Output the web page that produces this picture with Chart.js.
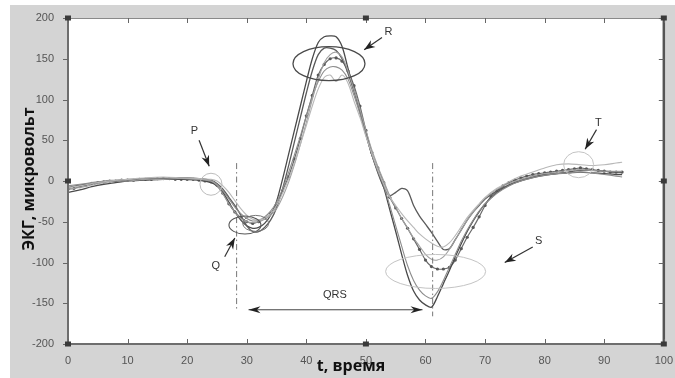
<!DOCTYPE html>
<html><head><meta charset="utf-8">
<script src="https://cdn.jsdelivr.net/npm/chart.js@4"></script>
<style>html,body{margin:0;padding:0;background:#fff}canvas{display:block}</style>
</head><body>
<canvas id="c" width="675" height="378"></canvas>
<script>
// ---- data ----
const meanX = [0,1,2,3,4,5,6,7,8,9,10,11,12,13,14,15,16,17,18,19,20,21,22,23,24,25,26,27,28,29,30,31,32,33,34,35,36,37,38,39,40,41,42,43,44,45,46,47,48,49,50,51,52,53,54,55,56,57,58,59,60,61,62,63,64,65,66,67,68,69,70,71,72,73,74,75,76,77,78,79,80,81,82,83,84,85,86,87,88,89,90,91,92,93];
const meanY = [-10,-9,-7,-5,-3,-2,-1,0,0,1,1,1,2,2,2,3,3,3,2,2,2,2,1,0,-1,-5,-15,-28,-38,-45,-50,-52,-50,-46,-40,-30,-12,5,27,52,80,105,130,143,150,151,147,135,117,92,62,35,16,-2,-20,-33,-46,-58,-71,-84,-97,-105,-108,-108,-106,-97,-83,-69,-57,-44,-30,-19,-12,-6,-2,1,4,6,8,9,10,11,12,13,14,15,16,15,14,13,12,11,11,11];

const curveX = [0,2,4,6,8,10,13,16,19,22,24,25,26,27,28,29,30,31,32,33,34,35,36,37,38,39,40,41,42,43,44,45,46,47,48,49,50,51,52,53,54,55,56,57,58,59,60,61,62,63,64,65,66,67,68,69,70,72,74,76,78,80,82,84,86,88,90,92,93];
const lead1 = [-14,-11,-7,-4,-2,0,1,2,2,1,-2,-6,-14,-26,-38,-48,-55,-58,-57,-52,-42,-25,2,32,62,92,122,150,170,177,178,177,165,138,112,86,58,32,12,-8,-35,-62,-90,-116,-135,-146,-152,-155,-142,-126,-110,-93,-77,-62,-49,-38,-28,-14,-5,1,5,8,9,10,11,10,9,8,8];
const lead2 = [-8,-5,-3,-1,0,1,3,3,4,3,1,-3,-10,-20,-30,-42,-55,-62,-62,-57,-48,-33,-10,18,48,78,108,135,155,163,163,160,150,132,110,85,58,32,10,-8,-18,-14,-9,-12,-30,-43,-53,-63,-74,-84,-83,-72,-60,-48,-38,-30,-22,-12,-5,0,4,7,9,11,13,13,12,11,11];
const lead3 = [-6,-4,-2,0,1,2,3,4,3,2,0,-4,-12,-22,-32,-40,-46,-49,-48,-44,-37,-26,-10,10,32,55,80,103,122,135,140,140,136,125,105,82,56,32,12,-6,-30,-55,-80,-104,-122,-134,-141,-144,-136,-122,-106,-90,-74,-60,-48,-37,-28,-15,-6,0,4,7,9,10,11,10,8,6,5];
const lead4 = [-8,-6,-3,-1,1,2,4,5,4,3,2,0,-6,-14,-24,-34,-42,-47,-48,-46,-40,-30,-15,2,22,45,68,92,113,127,130,122,130,120,98,78,55,34,14,-4,-20,-30,-40,-49,-57,-65,-71,-76,-80,-81,-76,-67,-56,-45,-36,-28,-20,-9,-1,6,11,16,20,21,20,19,20,22,23];
const lead5 = [-10,-8,-5,-2,0,0,2,2,3,2,0,-5,-16,-28,-38,-46,-50,-51,-50,-47,-42,-34,-20,-2,20,45,72,100,125,145,155,158,152,135,112,88,62,38,18,0,-18,-32,-46,-58,-70,-80,-90,-96,-97,-93,-84,-72,-60,-48,-38,-29,-21,-10,-3,2,6,9,11,13,14,13,12,12,12];

const xTickValues = [0,10,20,30,40,50,60,70,80,90,100];
const yTickValues = [-200,-150,-100,-50,0,50,100,150,200];

const yTitle = 'ЭКГ, микровольт';
const xTitle = 't, время';
const waveLabels = ['P','Q','R','S','T'];
const intervalLabel = 'QRS';

// ---- build ----
const pts = (xs, ys) => xs.map((x, i) => ({x, y: ys[i]}));
const line = (data, color, w) => ({data, borderColor: color, borderWidth: w, pointRadius: 0, tension: 0.3, fill: false});

const datasets = [
  line(pts(curveX, lead4), '#b8b8b8', 1.1),
  line(pts(curveX, lead5), '#a0a0a0', 1.1),
  line(pts(curveX, lead3), '#8c8c8c', 1.1),
  line(pts(curveX, lead2), '#5a5a5a', 1.3),
  line(pts(curveX, lead1), '#4a4a4a', 1.3),
  {data: pts(meanX, meanY), borderColor: '#6a6a6a', borderWidth: 1.2, pointRadius: 1.6,
   pointBackgroundColor: '#585858', pointBorderWidth: 0, tension: 0.3, fill: false}
];

const tickFont = {family: '"Liberation Sans", Arial, sans-serif', size: 11};

function arrowHead(ctx, x1, y1, x2, y2, len, wid) {
  const a = Math.atan2(y2 - y1, x2 - x1);
  ctx.save();
  ctx.translate(x2, y2); ctx.rotate(a);
  ctx.beginPath();
  ctx.moveTo(0, 0);
  ctx.lineTo(-len, -wid / 2);
  ctx.lineTo(-len * 0.7, 0);
  ctx.lineTo(-len, wid / 2);
  ctx.closePath();
  ctx.fill();
  ctx.restore();
}

const decor = {
  id: 'decor',
  beforeDraw(chart) {
    const {ctx, chartArea: a} = chart;
    ctx.save();
    ctx.fillStyle = '#ffffff'; ctx.fillRect(0, 0, chart.width, chart.height);
    ctx.fillStyle = '#d4d4d4'; ctx.fillRect(10, 5, chart.width - 10, chart.height - 5);
    ctx.fillStyle = '#ffffff'; ctx.fillRect(a.left, a.top, a.right - a.left, a.bottom - a.top);
    ctx.restore();
  },
  afterDatasetsDraw(chart) {
    const {ctx, scales: {x, y}} = chart;
    const X = v => x.getPixelForValue(v), Y = v => y.getPixelForValue(v);
    ctx.save();
    // dash-dot verticals
    ctx.strokeStyle = '#777'; ctx.lineWidth = 1; ctx.setLineDash([6, 3, 1.5, 3]);
    ctx.beginPath(); ctx.moveTo(X(28.3), Y(22)); ctx.lineTo(X(28.3), Y(-159)); ctx.stroke();
    ctx.beginPath(); ctx.moveTo(X(61.2), Y(22)); ctx.lineTo(X(61.2), Y(-166)); ctx.stroke();
    ctx.setLineDash([]);
    // ellipses
    const ell = (cx, cy, rx, ry, col, lw) => { ctx.strokeStyle = col; ctx.lineWidth = lw; ctx.beginPath(); ctx.ellipse(X(cx), Y(cy), rx, ry, 0, 0, Math.PI * 2); ctx.stroke(); };
    ell(24, -4, 11, 11, '#bdbdbd', 1);
    ell(29.7, -54, 16, 9, '#555', 1.1);
    ell(31.5, -52, 13, 8, '#777', 1);
    ell(43.8, 144, 36, 17, '#4a4a4a', 1.3);
    ell(61.7, -111, 50, 17, '#c4c4c4', 1);
    ell(85.7, 20, 15, 13, '#c4c4c4', 1);
    // arrows
    ctx.fillStyle = '#222'; ctx.strokeStyle = '#333'; ctx.lineWidth = 1.2;
    const arr = (x1, y1, x2, y2) => {
      const p1 = [X(x1), Y(y1)], p2 = [X(x2), Y(y2)];
      ctx.beginPath(); ctx.moveTo(p1[0], p1[1]); ctx.lineTo(p2[0], p2[1]); ctx.stroke();
      arrowHead(ctx, p1[0], p1[1], p2[0], p2[1], 11, 8);
    };
    arr(22, 50, 23.7, 18);
    arr(26.3, -93, 28, -70);
    arr(52.7, 176, 49.7, 161);
    arr(78, -81, 73.3, -100);
    arr(88.7, 63, 86.8, 39);
    // QRS double arrow
    ctx.lineWidth = 1; ctx.strokeStyle = '#444';
    ctx.beginPath(); ctx.moveTo(X(30.3), Y(-158)); ctx.lineTo(X(59.5), Y(-158)); ctx.stroke();
    arrowHead(ctx, X(59.5), Y(-158), X(30.3), Y(-158), 12, 7);
    arrowHead(ctx, X(30.3), Y(-158), X(59.5), Y(-158), 12, 7);
    // labels
    ctx.fillStyle = '#333'; ctx.font = '11px "Liberation Sans", Arial, sans-serif';
    ctx.textAlign = 'center'; ctx.textBaseline = 'middle';
    const lab = [[21.2, 61], [24.8, -104], [53.8, 183], [79, -74], [89, 71]];
    waveLabels.forEach((t, i) => ctx.fillText(t, X(lab[i][0]), Y(lab[i][1])));
    ctx.fillText(intervalLabel, X(44.8), Y(-140));
    ctx.restore();
  },
  afterDraw(chart) {
    const {ctx, chartArea: a, scales: {x, y}} = chart;
    ctx.save();
    // frame
    ctx.strokeStyle = '#8a8a8a'; ctx.lineWidth = 1;
    ctx.beginPath(); ctx.moveTo(a.left, a.top + 0.5); ctx.lineTo(a.right, a.top + 0.5); ctx.stroke();
    ctx.strokeStyle = '#6e6e6e'; ctx.lineWidth = 2;
    ctx.beginPath(); ctx.moveTo(a.left, a.top); ctx.lineTo(a.left, a.bottom); ctx.lineTo(a.right, a.bottom); ctx.stroke();
    ctx.strokeStyle = '#555'; ctx.lineWidth = 2.5;
    ctx.beginPath(); ctx.moveTo(a.right, a.top); ctx.lineTo(a.right, a.bottom); ctx.stroke();
    // ticks
    ctx.strokeStyle = '#666'; ctx.lineWidth = 1;
    xTickValues.forEach(v => {
      const p = Math.round(x.getPixelForValue(v)) + 0.5;
      ctx.beginPath(); ctx.moveTo(p, a.bottom); ctx.lineTo(p, a.bottom - 5); ctx.stroke();
      ctx.beginPath(); ctx.moveTo(p, a.top); ctx.lineTo(p, a.top + 5); ctx.stroke();
    });
    yTickValues.forEach(v => {
      const p = Math.round(y.getPixelForValue(v)) + 0.5;
      ctx.beginPath(); ctx.moveTo(a.left - 5, p); ctx.lineTo(a.left, p); ctx.stroke();
      ctx.beginPath(); ctx.moveTo(a.right - 5, p); ctx.lineTo(a.right, p); ctx.stroke();
    });
    // corner markers
    ctx.fillStyle = '#3a3a3a';
    [[0,200],[0,0],[0,-200],[50,200],[50,-200],[100,200],[100,0],[100,-200]].forEach(([vx, vy]) => {
      ctx.fillRect(x.getPixelForValue(vx) - 3, y.getPixelForValue(vy) - 2.5, 6, 5);
    });
    // titles
    ctx.fillStyle = '#111';
    ctx.font = 'bold 16px "Open Sans", sans-serif';
    ctx.textAlign = 'center'; ctx.textBaseline = 'middle';
    ctx.fillText(xTitle, 351, 366);
    ctx.translate(29, 179); ctx.rotate(-Math.PI / 2);
    ctx.fillText(yTitle, 0, 0);
    ctx.restore();
  }
};

new Chart(document.getElementById('c'), {
  type: 'line',
  data: {datasets},
  options: {
    responsive: false, animation: false, devicePixelRatio: 1,
    layout: {padding: {left: 0, top: 18, right: 7, bottom: 0}},
    plugins: {legend: {display: false}, tooltip: {enabled: false}},
    scales: {
      x: {type: 'linear', min: 0, max: 100,
          afterBuildTicks: s => { s.ticks = xTickValues.map(v => ({value: v})); },
          afterFit: s => { s.height = 34; },
          grid: {display: false}, border: {display: false},
          ticks: {color: '#555', font: tickFont, padding: 2, maxRotation: 0, autoSkip: false}},
      y: {type: 'linear', min: -200, max: 200,
          afterBuildTicks: s => { s.ticks = yTickValues.map(v => ({value: v})); },
          afterFit: s => { s.width = 68; },
          grid: {display: false}, border: {display: false},
          ticks: {color: '#555', font: tickFont, padding: 6, autoSkip: false}}
    }
  },
  plugins: [decor]
});
</script>
</body></html>
